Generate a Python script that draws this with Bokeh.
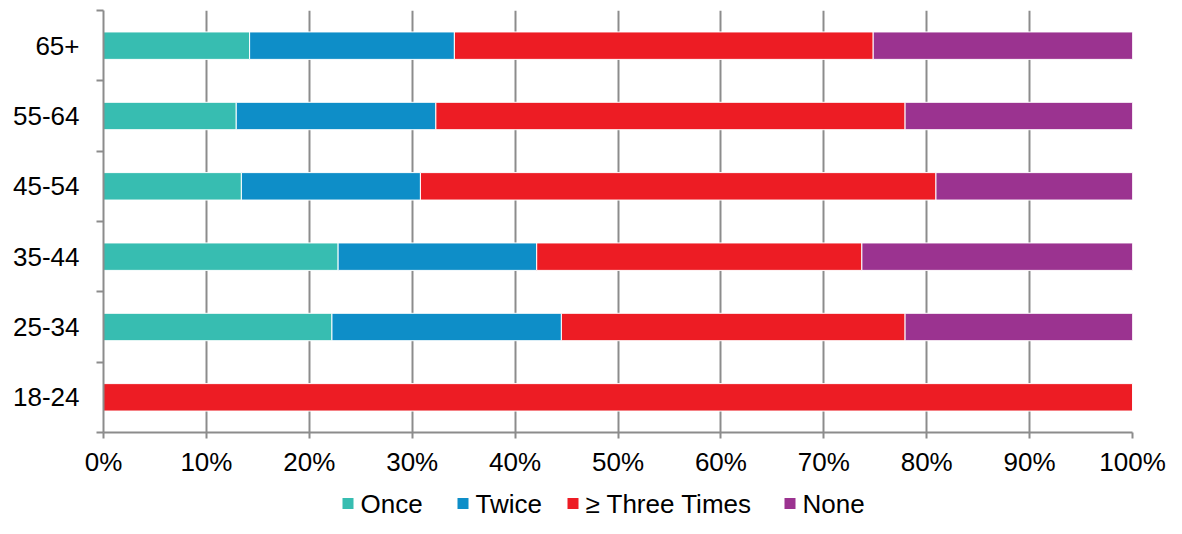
from bokeh.plotting import figure
from bokeh.layouts import column
from bokeh.models import (ColumnDataSource, Range1d, FixedTicker, PrintfTickFormatter)
from bokeh.core.properties import value
from bokeh.embed import file_html
from bokeh.resources import INLINE

ages = ["18-24", "25-34", "35-44", "45-54", "55-64", "65+"]
once = [0.0, 22.2, 22.8, 13.4, 12.9, 14.2]
twice = [0.0, 22.3, 19.3, 17.4, 19.4, 19.9]
three = [100.0, 33.4, 31.6, 50.1, 45.6, 40.7]
none_ = [0.0, 22.1, 26.3, 19.1, 22.1, 25.2]
series = ["Once", "Twice", "≥ Three Times", "None"]
colors = ["#37BDB1", "#0E8EC8", "#ED1C24", "#9B3390"]
x_ticks = [0, 10, 20, 30, 40, 50, 60, 70, 80, 90, 100]

ypos = [i + 0.5 for i in range(len(ages))]
src = ColumnDataSource(dict(y=ypos, Once=once, Twice=twice, Three=three, NoneV=none_))

FONT = "Liberation Sans"
GRAY = "#8c8c8c"
W = 1166
BL, BR = 103, 34

p = figure(width=W, height=482, output_backend="svg", toolbar_location=None,
           x_range=Range1d(0, 100), y_range=Range1d(0, len(ages)),
           min_border_left=BL, min_border_right=BR, min_border_top=10,
           min_border_bottom=50)
p.outline_line_color = None

p.hbar_stack(["Once", "Twice", "Three", "NoneV"], y="y", height=0.39, source=src,
             color=colors, line_color="white", line_width=1)

# axes
p.xaxis.ticker = FixedTicker(ticks=x_ticks)
p.xaxis.formatter = PrintfTickFormatter(format="%d%%")
p.xaxis.major_tick_in = 0
p.xaxis.major_tick_out = 6
p.xaxis.major_label_standoff = 8

p.yaxis.ticker = FixedTicker(ticks=ypos, minor_ticks=list(range(len(ages) + 1)))
p.yaxis.major_label_overrides = {y: a for y, a in zip(ypos, ages)}
p.yaxis.major_tick_in = 0
p.yaxis.major_tick_out = 0
p.yaxis.minor_tick_in = 0
p.yaxis.minor_tick_out = 7
p.yaxis.major_label_standoff = 17

for ax in (p.xaxis[0], p.yaxis[0]):
    ax.axis_line_color = GRAY
    ax.axis_line_width = 2
    ax.major_tick_line_color = GRAY if ax is p.xaxis[0] else None
    ax.major_tick_line_width = 2
    ax.minor_tick_line_color = None if ax is p.xaxis[0] else GRAY
    ax.minor_tick_line_width = 2
    ax.major_label_text_font = FONT
    ax.major_label_text_font_size = "26px"
    ax.major_label_text_color = "#000000"

p.xgrid.ticker = FixedTicker(ticks=x_ticks)
p.xgrid.grid_line_color = GRAY
p.xgrid.grid_line_width = 2
p.ygrid.grid_line_color = None

# legend strip (separate figure; its frame is aligned with the main frame,
# so its x range is set to page pixels over that frame)
LH = 36
leg = figure(width=W, height=LH, output_backend="svg", toolbar_location=None,
             x_range=Range1d(BL, W - BR), y_range=Range1d(0, LH),
             x_axis_location=None, y_axis_location=None,
             min_border_left=BL, min_border_right=BR, min_border_top=0, min_border_bottom=0)
leg.outline_line_color = None
leg.xgrid.visible = False
leg.ygrid.visible = False

item_left = [342, 457, 567, 784]   # layout positions of legend items
cy = 15
leg.rect(x=[xl + 5.5 for xl in item_left], y=[cy] * len(series), width=11, height=11,
         fill_color=colors, line_color=None)
leg.text(x=[xl + 18 for xl in item_left], y=[cy] * len(series), text=series,
         text_font=value(FONT), text_font_size="26px", text_color="#000000",
         text_align="left", text_baseline="middle")

layout = column(p, leg, spacing=0)
open("out.html", "w").write(file_html(layout, INLINE))
